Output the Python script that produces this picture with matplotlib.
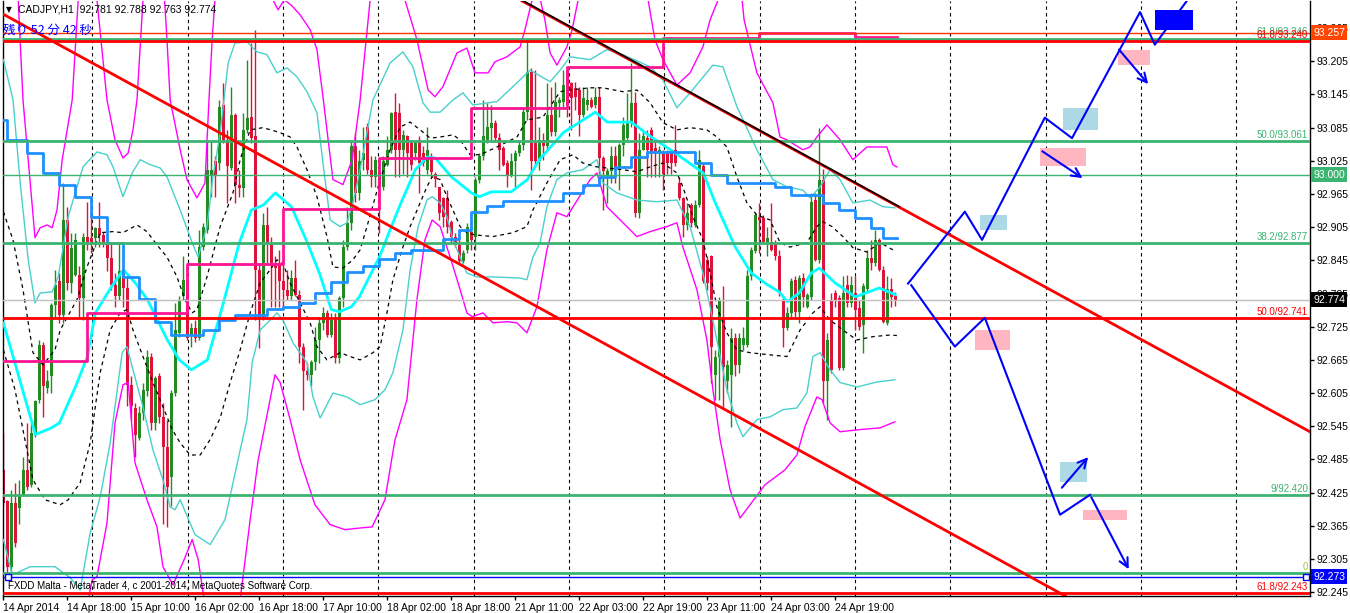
import matplotlib
matplotlib.use("Agg")
import matplotlib.pyplot as plt
from matplotlib.patches import Rectangle

plt.rcParams['font.family'] = ['Liberation Sans', 'DejaVu Sans']

# ------------------------------- CADJPY H1 candles, bar 0 = 14 Apr 2014 02:00
opens = [
    92.466, 92.409, 92.291, 92.406, 92.397, 92.421, 92.466, 92.439, 92.529, 92.593,
    92.692, 92.614, 92.635, 92.764, 92.807, 92.746, 92.918, 92.804, 92.819, 92.819,
    92.777, 92.888, 92.885, 92.885, 92.903, 92.891, 92.876, 92.849, 92.801, 92.780,
    92.825, 92.795, 92.620, 92.578, 92.523, 92.569, 92.608, 92.671, 92.550, 92.635,
    92.562, 92.508, 92.454, 92.605, 92.713, 92.780, 92.810, 92.710, 92.722, 92.704,
    92.870, 92.900, 92.997, 93.024, 93.021, 93.126, 93.063, 93.012, 93.108, 92.981,
    92.975, 93.081, 93.105, 93.069, 92.828, 92.743, 92.909, 92.876, 92.840, 92.840,
    92.807, 92.792, 92.780, 92.813, 92.783, 92.689, 92.644, 92.638, 92.662, 92.701,
    92.731, 92.750, 92.710, 92.738, 92.668, 92.777, 92.870, 92.912, 93.051, 92.966,
    93.027, 93.087, 93.009, 92.996, 93.005, 92.978, 93.017, 93.045, 93.114, 93.111,
    93.045, 93.069, 93.057, 93.039, 93.063, 93.039, 93.009, 93.027, 93.002, 92.978,
    92.957, 92.957, 92.915, 92.888, 92.873, 92.843, 92.864, 92.897, 92.888, 92.990,
    93.033, 93.063, 93.084, 93.093, 93.066, 93.048, 93.021, 93.000, 93.024, 93.039,
    93.054, 93.114, 93.186, 93.057, 93.024, 93.063, 93.051, 93.108, 93.078, 93.129,
    93.132, 93.189, 93.165, 93.156, 93.153, 93.108, 93.126, 93.135, 93.126, 93.141,
    93.030, 92.997, 93.006, 93.033, 93.009, 93.054, 93.066, 93.093, 93.129, 92.930,
    93.045, 93.066, 93.081, 93.048, 93.039, 93.039, 93.039, 93.042, 93.045, 92.984,
    92.957, 92.909, 92.945, 92.909, 92.945, 93.015, 92.846, 92.852, 92.638, 92.671,
    92.743, 92.626, 92.638, 92.704, 92.656, 92.692, 92.692, 92.816, 92.861, 92.924,
    92.921, 92.879, 92.879, 92.876, 92.852, 92.773, 92.722, 92.749, 92.810, 92.752,
    92.813, 92.761, 92.779, 92.954, 92.846, 92.991, 92.626, 92.774, 92.786, 92.777,
    92.650, 92.801, 92.768, 92.786, 92.758, 92.728, 92.794, 92.849, 92.840, 92.882,
    92.828, 92.731, 92.794, 92.781,
]
highs = [
    92.532, 92.412, 92.430, 92.442, 92.448, 92.490, 92.550, 92.550, 92.593, 92.701,
    92.698, 92.647, 92.767, 92.828, 92.822, 92.985, 92.942, 92.894, 92.894, 92.834,
    92.894, 92.951, 92.930, 92.906, 92.951, 92.897, 92.882, 92.876, 92.822, 92.876,
    92.828, 92.816, 92.635, 92.587, 92.581, 92.623, 92.683, 92.677, 92.635, 92.641,
    92.587, 92.556, 92.611, 92.767, 92.780, 92.852, 92.840, 92.731, 92.737, 92.900,
    92.912, 93.063, 93.063, 93.033, 93.135, 93.165, 93.081, 93.159, 93.111, 93.009,
    93.111, 93.207, 93.238, 93.262, 92.840, 92.930, 92.942, 92.888, 92.852, 92.864,
    92.840, 92.828, 92.828, 92.846, 92.792, 92.695, 92.659, 92.665, 92.725, 92.743,
    92.761, 92.755, 92.749, 92.749, 92.780, 92.882, 92.942, 93.063, 93.075, 93.045,
    93.087, 93.093, 93.033, 93.033, 93.027, 93.033, 93.069, 93.114, 93.147, 93.129,
    93.081, 93.072, 93.063, 93.063, 93.069, 93.051, 93.087, 93.039, 93.005, 92.978,
    92.960, 92.972, 92.918, 92.894, 92.882, 92.864, 92.912, 92.918, 92.996, 93.039,
    93.135, 93.129, 93.126, 93.099, 93.075, 93.051, 93.027, 93.039, 93.045, 93.063,
    93.123, 93.244, 93.192, 93.189, 93.087, 93.075, 93.165, 93.159, 93.168, 93.141,
    93.189, 93.195, 93.168, 93.168, 93.159, 93.159, 93.159, 93.141, 93.159, 93.159,
    93.033, 93.012, 93.051, 93.051, 93.057, 93.105, 93.147, 93.202, 93.150, 93.075,
    93.081, 93.081, 93.087, 93.063, 93.051, 93.045, 93.045, 93.045, 93.090, 92.996,
    92.960, 92.948, 92.948, 92.954, 93.045, 93.021, 92.852, 92.855, 92.683, 92.779,
    92.798, 92.665, 92.722, 92.713, 92.713, 92.725, 92.828, 92.870, 92.930, 92.948,
    92.927, 92.906, 92.948, 92.882, 92.864, 92.779, 92.761, 92.813, 92.816, 92.819,
    92.822, 92.786, 92.966, 92.966, 93.085, 93.010, 92.713, 92.786, 92.792, 92.783,
    92.816, 92.819, 92.816, 92.816, 92.773, 92.804, 92.864, 92.882, 92.900, 92.885,
    92.834, 92.816, 92.813, 92.788,
]
lows = [
    92.400, 92.279, 92.279, 92.327, 92.369, 92.418, 92.430, 92.436, 92.526, 92.587,
    92.562, 92.605, 92.605, 92.743, 92.731, 92.731, 92.792, 92.786, 92.816, 92.743,
    92.737, 92.864, 92.858, 92.870, 92.870, 92.870, 92.825, 92.792, 92.761, 92.774,
    92.761, 92.581, 92.556, 92.490, 92.520, 92.556, 92.599, 92.538, 92.538, 92.550,
    92.369, 92.363, 92.400, 92.599, 92.707, 92.774, 92.701, 92.689, 92.698, 92.701,
    92.864, 92.894, 92.960, 92.960, 93.009, 93.057, 92.948, 93.009, 92.948, 92.960,
    92.960, 93.075, 93.057, 92.737, 92.686, 92.737, 92.840, 92.761, 92.761, 92.761,
    92.761, 92.774, 92.774, 92.780, 92.659, 92.574, 92.629, 92.617, 92.647, 92.659,
    92.719, 92.707, 92.707, 92.659, 92.659, 92.761, 92.864, 92.900, 92.950, 92.955,
    93.009, 93.002, 92.978, 92.978, 92.894, 92.972, 93.015, 93.039, 92.996, 92.996,
    93.002, 92.996, 93.009, 93.027, 92.966, 93.015, 93.002, 92.996, 92.978, 92.918,
    92.906, 92.894, 92.876, 92.870, 92.840, 92.840, 92.858, 92.864, 92.864, 92.984,
    93.027, 93.057, 93.063, 93.063, 93.009, 93.015, 92.978, 92.996, 92.978, 93.033,
    93.045, 93.099, 92.972, 93.015, 93.009, 93.027, 93.045, 93.069, 93.069, 93.105,
    93.123, 93.105, 93.081, 93.117, 93.069, 93.105, 93.117, 93.120, 93.120, 93.002,
    92.936, 92.948, 92.984, 92.984, 92.972, 93.033, 93.063, 93.087, 92.924, 92.921,
    93.045, 92.996, 92.996, 92.996, 92.996, 92.972, 93.002, 93.002, 93.015, 92.954,
    92.888, 92.900, 92.906, 92.906, 92.942, 92.804, 92.792, 92.623, 92.592, 92.592,
    92.580, 92.605, 92.544, 92.635, 92.641, 92.683, 92.689, 92.810, 92.858, 92.858,
    92.876, 92.852, 92.861, 92.846, 92.780, 92.689, 92.719, 92.743, 92.743, 92.731,
    92.761, 92.758, 92.773, 92.843, 92.840, 92.587, 92.557, 92.641, 92.761, 92.647,
    92.647, 92.761, 92.761, 92.719, 92.719, 92.677, 92.788, 92.828, 92.834, 92.825,
    92.731, 92.728, 92.761, 92.763,
]
closes = [
    92.406, 92.291, 92.406, 92.333, 92.418, 92.466, 92.436, 92.532, 92.590, 92.692,
    92.617, 92.626, 92.764, 92.801, 92.746, 92.918, 92.804, 92.867, 92.882, 92.777,
    92.888, 92.879, 92.879, 92.903, 92.891, 92.876, 92.849, 92.801, 92.780, 92.825,
    92.795, 92.620, 92.581, 92.529, 92.569, 92.611, 92.671, 92.550, 92.632, 92.562,
    92.508, 92.436, 92.605, 92.719, 92.774, 92.810, 92.704, 92.722, 92.704, 92.870,
    92.906, 93.009, 93.009, 92.997, 93.123, 93.063, 93.015, 93.108, 92.981, 92.975,
    93.081, 93.102, 93.066, 92.828, 92.743, 92.909, 92.876, 92.840, 92.831, 92.807,
    92.792, 92.780, 92.813, 92.783, 92.689, 92.644, 92.638, 92.662, 92.701, 92.731,
    92.750, 92.710, 92.738, 92.668, 92.777, 92.870, 92.912, 93.051, 92.966, 93.024,
    93.039, 93.009, 92.996, 93.027, 92.978, 93.024, 93.045, 93.111, 93.045, 93.045,
    93.072, 93.039, 93.017, 93.057, 93.021, 93.021, 93.045, 93.005, 92.993, 92.930,
    92.924, 92.906, 92.888, 92.873, 92.843, 92.858, 92.906, 92.882, 92.990, 93.033,
    93.069, 93.087, 93.093, 93.066, 93.045, 93.017, 93.000, 93.024, 93.039, 93.054,
    93.114, 93.186, 93.024, 93.024, 93.063, 93.051, 93.108, 93.078, 93.132, 93.135,
    93.162, 93.126, 93.138, 93.141, 93.108, 93.138, 93.135, 93.123, 93.141, 93.030,
    93.006, 93.006, 93.033, 93.006, 93.054, 93.090, 93.093, 93.129, 92.930, 93.045,
    93.069, 93.045, 93.039, 93.039, 93.045, 93.002, 93.021, 93.021, 93.021, 92.957,
    92.909, 92.930, 92.912, 92.945, 93.027, 92.807, 92.804, 92.689, 92.671, 92.773,
    92.653, 92.656, 92.704, 92.656, 92.704, 92.704, 92.816, 92.864, 92.927, 92.918,
    92.879, 92.885, 92.864, 92.852, 92.786, 92.722, 92.749, 92.807, 92.752, 92.813,
    92.779, 92.782, 92.951, 92.846, 92.991, 92.626, 92.701, 92.647, 92.774, 92.650,
    92.786, 92.768, 92.801, 92.755, 92.725, 92.798, 92.849, 92.840, 92.882, 92.828,
    92.734, 92.794, 92.779, 92.774,
]

time_ticks = [0, 16, 32, 48, 64, 80, 96, 112, 128, 144, 160, 176, 192, 208]
time_labels = ['14 Apr 2014', '14 Apr 18:00', '15 Apr 10:00', '16 Apr 02:00',
               '16 Apr 18:00', '17 Apr 10:00', '18 Apr 02:00', '18 Apr 18:00',
               '21 Apr 11:00', '22 Apr 03:00', '22 Apr 19:00', '23 Apr 11:00',
               '24 Apr 03:00', '24 Apr 19:00']
price_ticks = [92.245, 92.305, 92.365, 92.425, 92.485, 92.545, 92.605, 92.665, 92.725,
               92.785, 92.845, 92.905, 92.965, 93.025, 93.085, 93.145, 93.205, 93.265]

# ------------------------------- indicators
ma_bars = [0, 8, 12, 14, 18, 21, 23, 27, 30, 33, 36, 41, 44, 47, 51, 55, 59, 62, 65, 68,
           72, 76, 79, 82, 84, 87, 89, 94, 99, 103, 106, 108, 112, 117, 119, 122, 127, 131,
           134, 140, 148, 151, 157, 162, 168, 175, 178, 183, 187, 191, 194, 196, 199, 202,
           204, 208, 213, 219, 223]
ma_vals = [92.732, 92.530, 92.542, 92.551, 92.616, 92.671, 92.750, 92.797, 92.828, 92.804,
           92.774, 92.701, 92.665, 92.647, 92.665, 92.768, 92.877, 92.936, 92.945, 92.967,
           92.942, 92.877, 92.822, 92.756, 92.752, 92.761, 92.779, 92.851, 92.942, 93.009,
           93.032, 93.030, 92.996, 92.967, 92.960, 92.969, 92.969, 92.991, 93.027, 93.076,
           93.113, 93.095, 93.095, 93.068, 93.039, 93.003, 92.949, 92.869, 92.822, 92.801,
           92.788, 92.770, 92.786, 92.822, 92.831, 92.804, 92.779, 92.795, 92.783]

step_blue_bars = [0, 1, 6, 10, 14, 18, 22, 26, 30, 34, 38, 42, 50, 54, 58, 66, 70, 74, 78,
                  82, 86, 90, 94, 98, 102, 110, 114, 117, 121, 125, 140, 145, 149, 153, 157,
                  161, 173, 177, 181, 193, 197, 205, 209, 213, 217, 220, 223.5]
step_blue_vals = [93.099, 93.063, 93.039, 93.003, 92.981, 92.960, 92.924, 92.877, 92.815,
                  92.775, 92.734, 92.710, 92.719, 92.737, 92.746, 92.757, 92.761, 92.768,
                  92.786, 92.806, 92.824, 92.835, 92.848, 92.859, 92.864, 92.884, 92.900,
                  92.933, 92.944, 92.953, 92.967, 92.982, 92.996, 93.014, 93.032, 93.041,
                  93.021, 93.000, 92.985, 92.978, 92.963, 92.949, 92.936, 92.922, 92.904,
                  92.886, 92.886]

step_pink_bars = [0, 21, 46, 70, 94, 117, 141, 165, 189, 213, 223.5]
step_pink_vals = [92.663, 92.750, 92.839, 92.938, 93.030, 93.121, 93.195, 93.247, 93.256,
                  93.249, 93.249]

bb3_up_bars = [1.7, 3.7, 4.9, 7.9, 9.2, 10.9, 12.2, 13.4, 14.7, 17.2, 18.7, 20.4, 22.2, 23.4,
               25.9, 27.9, 29.9, 31.2, 32.4, 33.4, 34.9, 36.7, 39.7, 40.9, 41.7, 44.2, 45.9,
               48.4, 50.4, 51.4, 52.2, 52.9, 55.4, 64.7, 67.4, 68.7, 70.2, 71.9, 74.2, 76.7,
               78.4, 79.9, 81.2, 82.4, 84.9, 87.2, 89.2, 90.7, 91.7, 94.2, 97.9, 100.4, 103.4,
               106.2, 107.9, 109.9, 113.4, 115.9, 117.9, 121.2, 122.9, 125.9, 129.2, 130.4,
               132.2, 133.7, 135.4, 136.7, 138.4, 140.9, 142.2, 143.7, 146.7, 159.2, 161.2,
               162.9, 164.9, 168.4, 171.7, 174.9, 176.7, 178.7, 180.4, 183.7, 185.2, 186.7,
               188.4, 192.4, 194.2, 195.9, 199.9, 201.7, 203.4, 205.9, 209.2, 212.4, 215.9,
               220.9, 222.4, 223.4]
bb3_up_vals = [93.388, 93.316, 93.135, 92.886, 92.904, 92.909, 92.904, 92.936, 93.027, 93.135,
               93.316, 93.388, 93.388, 93.316, 93.135, 93.063, 93.030, 93.039, 93.081, 93.135,
               93.316, 93.388, 93.388, 93.244, 93.135, 93.045, 92.991, 92.958, 92.985, 93.135,
               93.244, 93.316, 93.388, 93.370, 93.316, 93.298, 93.316, 93.307, 93.289, 93.262,
               93.226, 93.141, 93.063, 92.991, 92.982, 93.027, 93.135, 93.244, 93.316, 93.388,
               93.388, 93.316, 93.244, 93.153, 93.141, 93.159, 93.220, 93.229, 93.184, 93.184,
               93.204, 93.213, 93.231, 93.262, 93.316, 93.334, 93.280, 93.220, 93.198, 93.231,
               93.262, 93.316, 93.388, 93.388, 93.316, 93.244, 93.208, 93.162, 93.184, 93.231,
               93.280, 93.316, 93.388, 93.388, 93.280, 93.235, 93.184, 93.130, 93.068, 93.063,
               93.045, 93.050, 93.068, 93.090, 93.063, 93.027, 93.050, 93.050, 93.018, 93.014]
bb3_dn_bars = [0, 19.2, 21.2, 22.2, 23.4, 25.9, 27.9, 29.9, 31.2, 32.9, 35.9, 38.4, 39.9, 42.4,
               45.2, 47.2, 48.7, 50.2, 52.9, 56.7, 59.2, 61.7, 63.7, 65.7, 67.9, 69.2, 71.7,
               74.2, 77.9, 81.7, 85.4, 89.2, 92.2, 95.4, 97.9, 100.9, 103.4, 105.4, 107.2,
               109.2, 111.7, 114.2, 115.9, 117.2, 119.9, 122.4, 125.9, 128.4, 130.9, 133.4,
               135.9, 138.4, 140.9, 146.7, 148.4, 150.9, 155.9, 158.4, 161.7, 165.9, 168.4,
               169.9, 173.4, 175.9, 177.4, 179.2, 181.7, 184.2, 186.7, 190.4, 195.4, 198.4,
               200.4, 203.4, 204.7, 206.7, 209.2, 214.2, 219.2, 222.9]
bb3_dn_vals = [92.141, 92.141, 92.231, 92.267, 92.273, 92.370, 92.551, 92.620, 92.624, 92.479,
               92.412, 92.363, 92.291, 92.258, 92.304, 92.340, 92.304, 92.231, 92.141, 92.159,
               92.231, 92.376, 92.484, 92.557, 92.638, 92.624, 92.557, 92.484, 92.403, 92.367,
               92.358, 92.361, 92.363, 92.412, 92.520, 92.593, 92.774, 92.882, 92.918, 92.906,
               92.851, 92.792, 92.750, 92.743, 92.750, 92.732, 92.734, 92.732, 92.714, 92.761,
               92.864, 92.931, 92.924, 92.991, 93.003, 92.942, 92.906, 92.888, 92.897, 92.906,
               92.913, 92.869, 92.792, 92.701, 92.611, 92.521, 92.430, 92.379, 92.403, 92.439,
               92.466, 92.493, 92.544, 92.598, 92.593, 92.551, 92.535, 92.539, 92.542, 92.553]

bb2_up_bars = [0, 2.4, 4.2, 6.2, 7.9, 9.2, 12.2, 13.7, 16.2, 19.9, 23.4, 25.9, 27.4, 29.9, 32.2,
               34.2, 36.7, 39.2, 40.9, 44.2, 47.2, 48.7, 50.9, 52.4, 54.2, 56.2, 57.9, 60.9,
               63.4, 65.9, 68.4, 70.9, 73.4, 75.9, 78.4, 79.9, 81.7, 84.2, 85.9, 87.4, 89.2,
               92.4, 96.7, 99.9, 102.4, 104.9, 106.7, 109.2, 112.4, 114.9, 117.4, 123.4, 128.4,
               131.7, 136.7, 139.2, 141.7, 146.7, 150.9, 154.9, 161.7, 164.9, 168.4, 171.7,
               177.4, 179.9, 183.4, 188.4, 192.4, 195.9, 199.9, 201.7, 204.2, 206.7, 209.2,
               212.4, 216.7, 219.9, 222.9]
bb2_up_vals = [93.208, 93.135, 92.985, 92.846, 92.768, 92.786, 92.788, 92.815, 92.924, 93.014,
               93.041, 93.036, 93.014, 92.960, 93.003, 93.027, 93.018, 93.012, 92.996, 92.936,
               92.877, 92.851, 92.906, 92.996, 93.076, 93.202, 93.238, 93.240, 93.222, 93.217,
               93.184, 93.193, 93.177, 93.150, 93.112, 93.021, 92.918, 92.906, 92.913, 92.949,
               93.009, 93.135, 93.202, 93.222, 93.195, 93.130, 93.113, 93.113, 93.135, 93.148,
               93.126, 93.132, 93.166, 93.189, 93.168, 93.189, 93.213, 93.208, 93.226, 93.217,
               93.195, 93.171, 93.121, 93.148, 93.198, 93.195, 93.123, 93.045, 92.991, 92.978,
               92.972, 92.958, 92.978, 93.009, 92.991, 92.949, 92.954, 92.942, 92.940]
bb2_dn_bars = [0, 2.2, 6.7, 12.9, 16.7, 19.2, 21.7, 24.2, 26.7, 29.7, 30.9, 32.4, 34.9, 37.4,
               39.9, 41.7, 42.9, 44.2, 47.9, 51.7, 55.4, 59.2, 60.9, 62.2, 64.2, 66.7, 68.4,
               69.9, 72.4, 75.9, 77.4, 79.2, 80.9, 82.4, 85.9, 89.2, 92.9, 95.4, 97.4, 99.9,
               101.7, 103.7, 105.9, 107.2, 109.2, 110.9, 112.4, 114.2, 115.9, 118.4, 122.4,
               129.2, 130.9, 132.4, 134.2, 135.9, 138.4, 140.9, 144.9, 148.4, 149.9, 153.4,
               158.4, 163.4, 168.4, 171.7, 174.9, 176.7, 178.4, 180.9, 183.4, 184.9, 188.4,
               191.7, 194.9, 198.4, 200.9, 202.4, 204.2, 206.7, 209.2, 213.4, 218.4, 222.9]
bb2_dn_vals = [92.340, 92.276, 92.291, 92.291, 92.271, 92.249, 92.352, 92.417, 92.515, 92.678,
               92.689, 92.647, 92.580, 92.502, 92.448, 92.399, 92.394, 92.412, 92.349, 92.331,
               92.376, 92.502, 92.557, 92.660, 92.719, 92.737, 92.750, 92.737, 92.696, 92.660,
               92.598, 92.560, 92.584, 92.605, 92.598, 92.584, 92.593, 92.611, 92.642, 92.719,
               92.828, 92.906, 92.954, 92.960, 92.949, 92.924, 92.882, 92.851, 92.822, 92.815,
               92.815, 92.813, 92.810, 92.851, 92.877, 92.942, 92.991, 93.003, 93.009, 93.027,
               92.985, 92.967, 92.954, 92.951, 92.954, 92.906, 92.822, 92.761, 92.701, 92.611,
               92.551, 92.526, 92.557, 92.562, 92.575, 92.578, 92.605, 92.671, 92.678, 92.647,
               92.624, 92.616, 92.625, 92.629]

bb1_up_bars = [0, 2.4, 4.9, 7.4, 9.9, 12.9, 14.2, 18.4, 20.9, 24.2, 27.4, 29.9, 33.4, 35.9,
               38.4, 40.9, 43.4, 45.4, 47.2, 48.4, 50.9, 54.2, 57.4, 59.2, 61.7, 64.9, 69.2,
               71.7, 73.4, 75.9, 78.4, 80.9, 82.4, 84.9, 87.4, 89.2, 90.9, 94.2, 96.7, 99.2,
               101.7, 104.2, 106.7, 109.2, 112.4, 114.2, 116.7, 119.2, 123.4, 128.4, 130.9,
               134.9, 139.2, 141.7, 146.7, 149.9, 154.9, 158.4, 161.7, 164.9, 168.4, 171.7,
               175.9, 178.4, 180.9, 183.4, 185.9, 188.4, 191.7, 194.2, 196.7, 200.9, 203.4,
               204.9, 207.2, 209.9, 212.4, 215.9, 219.2, 222.4]
bb1_up_vals = [92.933, 92.882, 92.792, 92.678, 92.656, 92.683, 92.719, 92.774, 92.833, 92.895,
               92.897, 92.895, 92.909, 92.897, 92.873, 92.851, 92.815, 92.774, 92.750, 92.756,
               92.815, 92.906, 92.967, 93.027, 93.081, 93.085, 93.076, 93.068, 93.050, 93.009,
               92.960, 92.888, 92.833, 92.831, 92.846, 92.864, 92.906, 92.991, 93.045, 93.086,
               93.095, 93.081, 93.066, 93.068, 93.072, 93.063, 93.036, 93.036, 93.050, 93.068,
               93.099, 93.104, 93.150, 93.153, 93.157, 93.157, 93.150, 93.153, 93.130, 93.094,
               93.081, 93.085, 93.081, 93.068, 93.050, 92.996, 92.949, 92.927, 92.918, 92.877,
               92.869, 92.877, 92.906, 92.915, 92.906, 92.888, 92.868, 92.860, 92.877, 92.864]
bb1_dn_bars = [0, 2.9, 5.4, 7.4, 10.4, 14.2, 16.2, 19.2, 21.7, 24.2, 26.7, 29.2, 30.9, 32.4,
               34.9, 37.4, 39.9, 42.2, 44.2, 46.7, 49.2, 51.7, 54.2, 56.7, 59.2, 61.7, 64.2,
               66.7, 68.4, 69.9, 71.7, 74.2, 76.7, 78.4, 80.9, 84.2, 86.7, 89.2, 92.4, 94.2,
               95.9, 97.4, 99.9, 101.7, 104.2, 105.9, 107.2, 109.2, 110.9, 112.4, 114.2, 115.9,
               117.9, 122.4, 127.4, 130.9, 132.4, 135.9, 139.2, 142.4, 144.9, 148.4, 150.9,
               154.9, 158.4, 161.7, 164.9, 168.4, 169.9, 172.4, 174.9, 176.7, 178.4, 180.9,
               183.4, 186.7, 191.7, 195.9, 199.2, 202.4, 204.2, 206.7, 209.9, 213.4, 217.4,
               221.7, 223.4]
bb1_dn_vals = [92.683, 92.611, 92.520, 92.448, 92.412, 92.403, 92.412, 92.443, 92.515, 92.642,
               92.719, 92.750, 92.756, 92.719, 92.671, 92.624, 92.580, 92.539, 92.515, 92.493,
               92.493, 92.521, 92.560, 92.624, 92.683, 92.750, 92.804, 92.828, 92.846, 92.840,
               92.804, 92.768, 92.732, 92.689, 92.665, 92.678, 92.671, 92.665, 92.678, 92.689,
               92.750, 92.810, 92.869, 92.906, 92.949, 92.978, 92.996, 92.991, 92.960, 92.936,
               92.906, 92.895, 92.891, 92.888, 92.895, 92.906, 92.936, 92.985, 93.027, 93.036,
               93.021, 93.014, 93.012, 93.009, 93.005, 93.014, 93.021, 93.003, 92.978, 92.924,
               92.882, 92.822, 92.761, 92.714, 92.683, 92.678, 92.674, 92.671, 92.719, 92.750,
               92.761, 92.737, 92.719, 92.701, 92.707, 92.710, 92.709]

# ------------------------------- chart objects
fib_levels = [
    (93.246, '61.8/93.246', '#3CB371'),
    (93.061, '50.0/93.061', '#3CB371'),
    (92.877, '38.2/92.877', '#3CB371'),
    (92.420, '9/92.420', '#3CB371'),
    (92.280, '0', '#9ACD32'),
]
red_levels = [
    (93.241, '61.8/93.240'),
    (92.741, '50.0/92.741'),
    (92.243, '61.8/92.243'),
]
zone_light = [(244.2, 250.9, 92.900, 92.927), (264.9, 273.7, 93.081, 93.121),
              (264.2, 270.9, 92.445, 92.481)]
zone_pink = [(242.9, 251.7, 92.683, 92.719), (259.2, 270.7, 93.016, 93.048),
             (269.9, 280.9, 92.376, 92.394), (278.7, 286.7, 93.198, 93.226)]
zone_solid = [(287.9, 297.4, 93.262, 93.298)]
path_up_bars = [226.2, 240.4, 244.7, 260.4, 267.2, 284.2, 287.9, 298.0]
path_up_vals = [92.803, 92.933, 92.882, 93.103, 93.066, 93.294, 93.235, 93.335]
path_dn_bars = [227.0, 237.9, 245.4, 264.2, 271.7]
path_dn_vals = [92.800, 92.689, 92.741, 92.385, 92.421]
arrows = [((271.7, 92.421), (281.7, 92.282)),
          ((259.2, 93.045), (270.4, 92.991)),
          ((264.2, 92.430), (271.7, 92.493)),
          ((278.5, 93.230), (286.7, 93.160))]

W, H = 1350, 613
UP, DOWN = '#228B22', '#DC143C'

fig = plt.figure(figsize=(W / 100, H / 100), dpi=100)
ax = fig.add_axes([3 / W, 17 / H, 1307 / W, 595 / H])
ax.set_xlim(-0.1, 326.7)
ax.set_ylim(92.238, 93.314)

# vertical grid
g = 22.2
while g < 326:
    ax.axvline(g, color='black', lw=0.8, ls=(0, (3, 3)), zorder=1)
    g += 23.84

# candles
n = len(closes)
xs = list(range(n))
cols = [UP if closes[i] >= opens[i] else DOWN for i in range(n)]
ax.vlines(xs, lows, highs, colors=cols, lw=1, zorder=2)
bottoms = [min(opens[i], closes[i]) for i in range(n)]
heights = [max(abs(closes[i] - opens[i]), 0.0018) for i in range(n)]
ax.bar(xs, heights, bottom=bottoms, width=0.72, color=cols, linewidth=0, zorder=2.1)

# bands
ax.plot(bb3_up_bars, bb3_up_vals, color='#FF00FF', lw=1, zorder=3)
ax.plot(bb3_dn_bars, bb3_dn_vals, color='#FF00FF', lw=1, zorder=3)
ax.plot(bb2_up_bars, bb2_up_vals, color='#48D1CC', lw=1, zorder=3)
ax.plot(bb2_dn_bars, bb2_dn_vals, color='#48D1CC', lw=1, zorder=3)
ax.plot(bb1_up_bars, bb1_up_vals, color='black', lw=0.9, ls=(0, (3, 3)), zorder=3)
ax.plot(bb1_dn_bars, bb1_dn_vals, color='black', lw=0.9, ls=(0, (3, 3)), zorder=3)
ax.plot(ma_bars, ma_vals, color='#00FFFF', lw=2, zorder=3.2)
ax.plot(step_blue_bars, step_blue_vals, color='#1E90FF', lw=2, drawstyle='steps-post', zorder=3.3)
ax.plot(step_pink_bars, step_pink_vals, color='#FF1493', lw=2, drawstyle='steps-post', zorder=3.3)

# horizontal objects
ax.axhline(93.257, color='#FF3300', lw=1, zorder=4)
ax.axhline(93.000, color='#3CB371', lw=1, zorder=4)
ax.axhline(92.774, color='#C0C0C0', lw=1, zorder=4)
ax.axhline(92.273, color='#0000FF', lw=1, zorder=4)
ax.plot([1.2, 325.6], [92.273, 92.273], ls='none', marker='s', ms=4, mfc='white',
        mec='#0000FF', mew=1, zorder=4.1, clip_on=False)
for p, lab, c in fib_levels:
    ax.axhline(p, color='#3CB371', lw=2, zorder=4)
    ax.text(326.2, p + 0.002, lab, ha='right', va='bottom', fontsize=7, color=c, zorder=5)
for p, lab in red_levels:
    ax.axhline(p, color='#FF0000', lw=2, zorder=4)
    ax.text(326.2, p + 0.002, lab, ha='right', va='bottom', fontsize=7, color='#FF0000', zorder=5)

# trend lines
ax.axline((0, 93.29), (265, 92.24), color='#FF0000', lw=2, zorder=4)
ax.axline((129.2, 93.316), (326.7, 92.535), color='#FF0000', lw=2, zorder=4)
ax.plot([127, 224], [93.326, 92.942], color='black', lw=1.2, zorder=4.2)

# projection drawing
for x0, x1, y0, y1 in zone_light:
    ax.add_patch(Rectangle((x0, y0), x1 - x0, y1 - y0, color='#ADD8E6', lw=0, zorder=4.5))
for x0, x1, y0, y1 in zone_pink:
    ax.add_patch(Rectangle((x0, y0), x1 - x0, y1 - y0, color='#FFB6C1', lw=0, zorder=4.5))
for x0, x1, y0, y1 in zone_solid:
    ax.add_patch(Rectangle((x0, y0), x1 - x0, y1 - y0, color='#0000FF', lw=0, zorder=4.5))
ax.plot(path_up_bars, path_up_vals, color='#0000FF', lw=1.5, zorder=5)
ax.plot(path_dn_bars, path_dn_vals, color='#0000FF', lw=1.5, zorder=5)
for tail, tip in arrows:
    ax.annotate('', xy=tip, xytext=tail, zorder=5,
                arrowprops=dict(arrowstyle='->', color='#0000FF', lw=1.5, mutation_scale=16))

# axes look
for s in ['left', 'bottom', 'right']:
    ax.spines[s].set_color('black')
    ax.spines[s].set_linewidth(1)
ax.spines['top'].set_visible(False)
ax.yaxis.tick_right()
ax.set_yticks(price_ticks)
ax.set_yticklabels(['%.3f' % p for p in price_ticks])
ax.set_xticks(time_ticks)
ax.set_xticklabels(time_labels, ha='left')
ax.tick_params(axis='both', length=3, width=1, color='black', labelsize=7.5, pad=2)
ax.tick_params(axis='y', pad=2)

# price boxes on the scale
boxes = [(93.257, '#FF4500'), (93.000, '#3CB371'), (92.774, 'black'), (92.273, '#0000FF')]
for p, c in boxes:
    ax.text(1.0025, p, '%.3f' % p, transform=ax.get_yaxis_transform(), ha='left', va='center',
            fontsize=7.5, color='white', zorder=6, clip_on=False,
            bbox=dict(facecolor=c, edgecolor='none', pad=1.6))

# captions
fig.text(9 / W, 1 - 10 / H, '\u25bc', fontsize=5.5, ha='center', va='center',
         family='DejaVu Sans')
fig.text(18 / W, 1 - 10 / H, 'CADJPY,H1  92.781 92.788 92.763 92.774', fontsize=7.5,
         ha='left', va='center')
fig.text(3 / W, 1 - 30 / H, '残り 52 分 42 秒', fontsize=9, color='#0000FF', ha='left',
         va='center', family=['Noto Sans CJK JP', 'DejaVu Sans'])
fig.text(8 / W, 1 - 586 / H, 'FXDD Malta - MetaTrader 4, c 2001-2014, MetaQuotes Software Corp.',
         fontsize=7, ha='left', va='center')

fig.savefig('out.png', dpi=100, facecolor='white')
